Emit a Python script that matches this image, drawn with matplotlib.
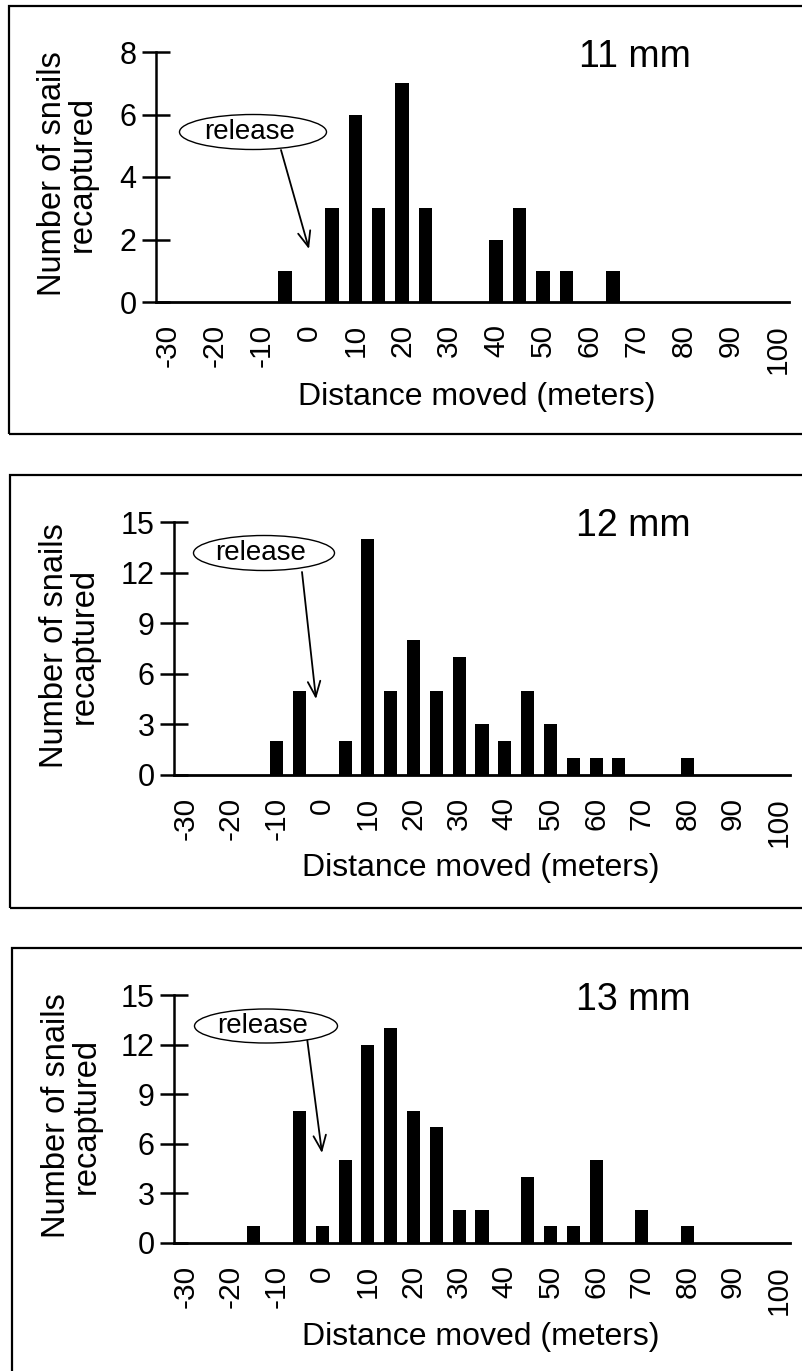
import matplotlib
matplotlib.use("Agg")
import matplotlib.pyplot as plt
from matplotlib.patches import Rectangle, Ellipse

plt.rcParams['font.family'] = ['Liberation Sans', 'DejaVu Sans']

# ---- data ----
distances = list(range(-30, 105, 5))          # bin categories (meters)
tick_labels = [str(d) if d % 10 == 0 else '' for d in distances]
counts_11mm = [0, 0, 0, 0, 0, 1, 0, 3, 6, 3, 7, 3, 0, 0, 2, 3, 1, 1, 0, 1, 0, 0, 0, 0, 0, 0, 0]
counts_12mm = [0, 0, 0, 0, 2, 5, 0, 2, 14, 5, 8, 5, 7, 3, 2, 5, 3, 1, 1, 1, 0, 0, 1, 0, 0, 0, 0]
counts_13mm = [0, 0, 0, 1, 0, 8, 1, 5, 12, 13, 8, 7, 2, 2, 0, 4, 1, 1, 5, 0, 2, 0, 1, 0, 0, 0, 0]
panel_titles = ['11 mm', '12 mm', '13 mm']
yticks_11 = [0, 2, 4, 6, 8]
yticks_1213 = [0, 3, 6, 9, 12, 15]

W, H = 803, 1371
fig = plt.figure(figsize=(W / 100, H / 100), dpi=100)


def fx(x):
    return x / W


def fy(y):
    return 1 - y / H


panels = [
    dict(counts=counts_11mm, yticks=yticks_11, ax=(156, 789, 52, 302),
         box=(6, 434, 9), title=(635, 57), ylab=(67, 174), xlab=(477, 397),
         ell=(253, 132, 147, 35), arr=(281, 150, 309, 249)),
    dict(counts=counts_12mm, yticks=yticks_1213, ax=(174, 790, 522, 775),
         box=(475, 908, 10), title=(633, 526), ylab=(69, 646), xlab=(481, 868),
         ell=(264, 553, 141, 35), arr=(302, 572, 316, 699)),
    dict(counts=counts_13mm, yticks=yticks_1213, ax=(174, 790, 995, 1243),
         box=(948, 1400, 12), title=(633, 1000), ylab=(71, 1116), xlab=(481, 1337),
         ell=(266, 1026, 143, 34), arr=(307, 1038, 322, 1153)),
]

for p, title in zip(panels, panel_titles):
    l, r, t, b = p['ax']
    ax = fig.add_axes([fx(l), fy(b), fx(r - l), (b - t) / H])
    x = list(range(len(distances)))
    ax.bar(x, p['counts'], width=0.57, color='black', zorder=3)
    ax.set_xlim(-0.5, len(distances) - 0.5)
    ax.set_ylim(0, p['yticks'][-1])
    ax.set_yticks(p['yticks'])
    ax.set_xticks(x)
    ax.set_xticklabels(tick_labels, rotation=90)
    ax.tick_params(axis='x', length=0, pad=16, labelsize=21.5)
    ax.tick_params(axis='y', direction='inout', length=20, width=1.8, pad=4, labelsize=22)
    for s in ['top', 'right']:
        ax.spines[s].set_visible(False)
    ax.spines['left'].set_linewidth(1.8)
    ax.spines['bottom'].set_linewidth(2.0)
    ax.set_facecolor('none')

    bt, bb, bl = p['box']
    fig.add_artist(Rectangle((fx(bl), fy(bb)), fx(W + 20 - bl), (bb - bt) / H,
                             transform=fig.transFigure, fill=False,
                             edgecolor='black', linewidth=1.6))

    fig.text(fx(p['title'][0]), fy(p['title'][1]), title, ha='center', va='center', fontsize=27)
    fig.text(fx(p['ylab'][0]), fy(p['ylab'][1]), 'Number of snails\nrecaptured',
             rotation=90, ha='center', va='center', multialignment='center',
             fontsize=23.5, linespacing=0.95)
    fig.text(fx(p['xlab'][0]), fy(p['xlab'][1]), 'Distance moved (meters)',
             ha='center', va='center', fontsize=23)

    cx, cy, ew, eh = p['ell']
    fig.add_artist(Ellipse((fx(cx), fy(cy)), ew / W, eh / H, transform=fig.transFigure,
                           fill=True, facecolor='white', edgecolor='black', linewidth=1.0, zorder=5))
    fig.text(fx(cx - 3), fy(cy), 'release', ha='center', va='center', fontsize=20, zorder=6)
    x0, y0, x1, y1 = p['arr']
    ax.annotate('', xy=(fx(x1), fy(y1)), xycoords='figure fraction',
                xytext=(fx(x0), fy(y0)), textcoords='figure fraction',
                arrowprops=dict(arrowstyle='->,head_length=1.1,head_width=0.45',
                                color='black', linewidth=1.3, shrinkA=0, shrinkB=0))

fig.savefig('out.png', dpi=100, facecolor='white')
